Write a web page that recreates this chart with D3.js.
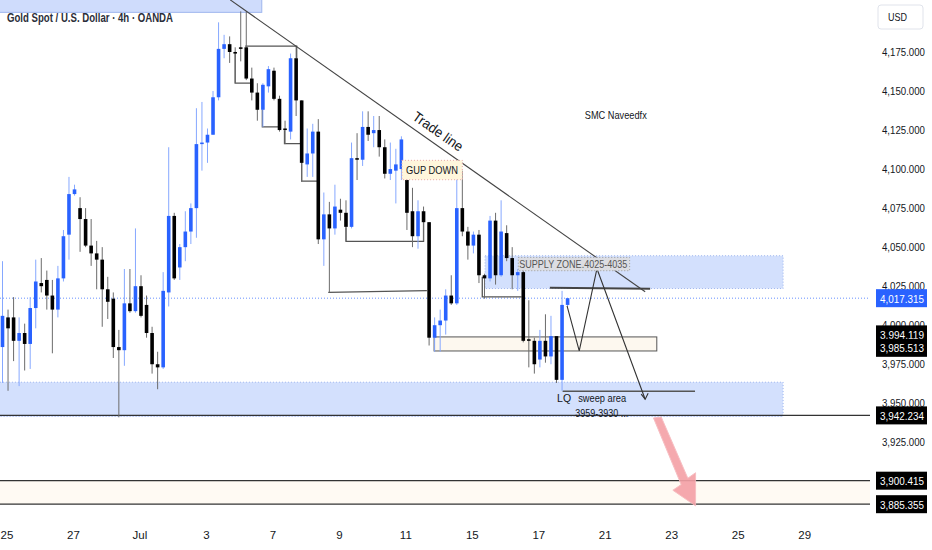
<!DOCTYPE html>
<html>
<head>
<meta charset="utf-8">
<title>Gold Spot 4h</title>
<script src="https://d3js.org/d3.v7.min.js"></script>
<style>
  body { margin: 0; background: #fff; }
  text { font-family: "Liberation Sans", Arial, sans-serif; fill: #131722; }
</style>
</head>
<body>
<script>
// ---- data (4h bars, oldest first) ----
var open  = [3986,4005,4005,3990,3995,3988,4011,4027,4029,4019,4010,4030,4058,4084,4075,4068,4051,4046,4042,4023,
             4017,3986,3984,4014,4009,4025,4013,3995,3975,3973,4021,4070,4037,4050,4060,4075,4116,4117,4122,4146,
             4177,4180,4175,4178,4178,4158,4149,4138,4153,4163,4145,4126,4124,4171,4144,4103,4110,4124,4055,4071,
             4062,4074,4072,4063,4107,4106,4127,4123,4125,4114,4097,4099,4100,4093,4073,4057,4073,4066,3992,4000,
             4003,4019,4014,4075,4060,4051,4058,4032,4030,4067,4032,4059,4043,4032,4034,3991,3990,3978,3990,3980,
             3993,3965,4013]
var high  = [4041,4010,4018,4005,4001,4018,4042,4043,4035,4029,4038,4061,4095,4090,4082,4075,4068,4054,4050,4031,
             4021,3997,4036,4036,4062,4032,4019,3999,3983,4034,4114,4072,4052,4073,4078,4139,4143,4126,4150,4194,
             4186,4185,4178,4201,4201,4165,4155,4155,4166,4165,4147,4131,4174,4179,4144,4126,4129,4132,4085,4079,
             4090,4081,4080,4117,4123,4137,4137,4134,4134,4119,4117,4113,4121,4095,4088,4080,4076,4066,4005,4010,
             4023,4032,4100,4099,4063,4060,4061,4033,4070,4072,4080,4064,4050,4036,4036,4016,3992,3997,4007,4006,
             3993,4022,4017.315]
var low   = [3963,3958,3977,3961,3971,3972,3998,4021,4010,3982,4005,4028,4042,4083,4047,4050,4038,4023,3999,4004,
             3979,3941,3974,4008,4008,4005,3992,3969,3959,3972,4012,4029,4029,4041,4052,4056,4099,4104,4122,4144,
             4171,4168,4155,4169,4157,4144,4131,4127,4149,4144,4124,4116,4119,4134,4092,4095,4095,4052,4038,4021,
             4058,4067,4054,4062,4093,4102,4118,4114,4108,4094,4093,4078,4093,4061,4050,4049,4054,3987,3983,3983,
             3994,4013,4013,4057,4042,4046,4027,4017,4028,4026,4031,4041,4023,4022,3989,3973,3969,3973,3976,3975,
             3963,3958,4012]
var close = [4006,3998,3990,3995,3988,4011,4028,4025,4019,4010,4030,4057,4084,4087,4068,4051,4046,4042,4023,4015,
             3986,3984,4014,4009,4025,4006,3995,3975,3973,4022,4070,4030,4050,4060,4075,4116,4117,4122,4146,4177,
             4180,4175,4174,4177,4158,4149,4138,4154,4164,4145,4125,4125,4171,4144,4104,4110,4124,4055,4071,4062,
             4076,4072,4063,4107,4106,4127,4122,4125,4114,4097,4100,4103,4119,4072,4057,4073,4066,3992,4000,4003,
             4019,4014,4075,4060,4051,4058,4032,4030,4067,4032,4060,4043,4032,4034,3990,3990,3975,3990,3980,3993,
             3965,4013,4017.315]

var priceTicks = [3925,3950,3975,4000,4025,4050,4075,4100,4125,4150,4175]
var dateLabels = ["25","27","Jul","3","7","9","11","15","17","21","23","25","29"]
var dateBars   = [0.8,12.8,24.8,36.8,48.8,60.8,72.8,84.8,96.8,108.8,120.8,132.8,144.8]

// marked levels on the price scale
var lastPrice = 4017.315
var levelLabels = [3994.119, 3985.513]
var levelLines = [3942.234, 3900.415, 3885.355]

// drawn zones: [fromBar, toBar, lowPrice, highPrice]
var zoneTop    = [-1, 46.8, 4200.4, 4215]
var zoneSupply = [87.1, 140.9, 4023.5, 4044.5]
var zoneLQ     = [-1, 140.9, 3941.5, 3963.5]
var zoneBox    = [77.9, 118.1, 3983.5, 3992.5]
var gapBox     = [72.1, 83, 4093.2, 4105.6]
var supplyTag  = [93.1, 113.2, 4034.9, 4043.4]

// liquidity steps: [bar, price] points
var steps = [
  [[42,4175.2],[42,4155],[44.7,4155]],
  [[43.8,4178.8],[53.1,4178.8],[53.1,4171.1]],
  [[46.9,4138],[46.9,4127],[49.8,4127]],
  [[50.9,4124.9],[50.9,4116.3],[54,4116.3]],
  [[54,4104.5],[54,4092.3],[56.8,4092.3]],
  [[62,4062.7],[62,4053.7],[76,4053.7],[76,4066.6]],
  [[58.8,4021],[76.6,4022.2]],
  [[86.6,4031],[86.6,4018.2],[93.7,4018.2]],
  [[101.1,3957.7],[125,3957.7]]
]
var targetLine = [[98.8,4024],[116.9,4023.3]]
var trendLine  = [[41.1,4208.4],[116,4021.4]]
var pathLine   = [[101.9,4012.4],[104.1,3983.5],[107.3,4036.2],[116,3952.6]]
var redArrow   = [[117.5,3940.6],[118.9,3941.2],[123.7,3902],[125.1,3905.5],[125.1,3884.3],[121,3894.3],[122.5,3897.9]]

var w = 932, h = 550
var svg = d3.select("body").append("svg").attr("width", w).attr("height", h)
svg.append("rect").attr("width", w).attr("height", h).attr("fill", "#fff")

var x = d3.scaleLinear().domain([0, 102]).range([2.5, 567.6])
var y = d3.scaleLinear().domain([3925, 4175]).range([442.3, 52])
var paneW = 870

svg.append("clipPath").attr("id", "pane").append("rect").attr("width", paneW).attr("height", 520)
var g = svg.append("g").attr("clip-path", "url(#pane)")

function zone(z, fill, stroke, dash) {
  g.append("rect")
    .attr("x", x(z[0])).attr("y", y(z[3]))
    .attr("width", x(z[1]) - x(z[0])).attr("height", y(z[2]) - y(z[3]))
    .attr("fill", fill).attr("stroke", stroke).attr("stroke-dasharray", dash)
}
function label(px, py, str, size, len, color) {
  return g.append("text").attr("x", px).attr("y", py)
    .attr("textLength", len).attr("lengthAdjust", "spacingAndGlyphs")
    .style("font-size", size + "px").style("fill", color || "#131722").text(str)
}
var line = d3.line().x(function(d){ return x(d[0]) }).y(function(d){ return y(d[1]) })

// cream band between the two lower levels
g.append("rect").attr("x", 0).attr("width", paneW)
  .attr("y", y(levelLines[1])).attr("height", y(levelLines[2]) - y(levelLines[1]))
  .attr("fill", "#fffaf3")

zone(zoneTop, "#cfdcfc", "#9fb6ee", null)
zone(zoneSupply, "#d3e0fd", "#9fb6ee", "1,2")
zone(zoneLQ, "#d3e0fd", "#9fb6ee", "1,2")
zone(zoneBox, "#fdf8ef", "#555", null)

// last price dotted line
g.append("line").attr("x1", 0).attr("x2", paneW).attr("y1", y(lastPrice)).attr("y2", y(lastPrice))
  .attr("stroke", "#2962ff").attr("stroke-dasharray", "1,2").attr("opacity", 0.7)

levelLines.forEach(function(p){
  g.append("line").attr("x1", 0).attr("x2", paneW).attr("y1", y(p)).attr("y2", y(p))
    .attr("stroke", "#333").attr("stroke-width", 1.3)
})

steps.forEach(function(s){
  g.append("path").attr("d", line(s)).attr("fill", "none").attr("stroke", "#555").attr("stroke-width", 1.3)
})
g.append("path").attr("d", line(targetLine)).attr("fill", "none").attr("stroke", "#444").attr("stroke-width", 2)

// candles
var bars = d3.range(open.length)
var cg = g.append("g")
cg.selectAll(".wick").data(bars).enter().append("line")
  .attr("x1", function(i){ return x(i) }).attr("x2", function(i){ return x(i) })
  .attr("y1", function(i){ return y(high[i]) }).attr("y2", function(i){ return y(low[i]) })
  .attr("stroke", function(i){ return close[i] >= open[i] ? "#86a8ff" : "#6b6b6b" })
  .attr("stroke-width", 1)
cg.selectAll(".body").data(bars).enter().append("rect")
  .attr("x", function(i){ return x(i) - 1.8 })
  .attr("width", 3.6)
  .attr("y", function(i){ return y(Math.max(open[i], close[i])) })
  .attr("height", function(i){ return Math.max(1.5, Math.abs(y(open[i]) - y(close[i]))) })
  .attr("fill", function(i){ return close[i] >= open[i] ? "#2962ff" : "#000" })

// trend line
g.append("path").attr("d", line(trendLine)).attr("fill", "none").attr("stroke", "#444").attr("stroke-width", 1.1)
g.append("text").attr("transform", "translate(" + x(78.6) + "," + y(4124.2) + ") rotate(35)")
  .attr("text-anchor", "middle").attr("dy", "0.35em")
  .attr("textLength", 58).attr("lengthAdjust", "spacingAndGlyphs")
  .style("font-size", "14px").text("Trade line")

// projection path
g.append("path").attr("d", line(pathLine)).attr("fill", "none").attr("stroke", "#333").attr("stroke-width", 1.1)
var tip = pathLine[pathLine.length - 1]
g.append("path").attr("d", "M" + (x(tip[0]) - 4) + "," + (y(tip[1]) - 5) + "L" + x(tip[0]) + "," + y(tip[1]) + "L" + (x(tip[0]) + 3) + "," + (y(tip[1]) - 6))
  .attr("fill", "none").attr("stroke", "#333").attr("stroke-width", 1.1)

// labels in boxes
zone(gapBox, "#fff6dc", "#e7a6a6", "1,2")
label(x(gapBox[0]) + 4, y((gapBox[2] + gapBox[3]) / 2) + 4, "GUP DOWN", 11, 52)
zone(supplyTag, "#dcdde2", "#9a9a9a", "1,2")
label(x(supplyTag[0]) + 1, y((supplyTag[2] + supplyTag[3]) / 2) + 4, "SUPPLY ZONE.4025-4035", 11, 108, "#555")

label(x(105.1), y(4134.5) + 4, "SMC Naveedfx", 11, 62)
label(x(100.1), y(3953.3) + 4, "LQ", 11.5, 14)
label(x(103.9), y(3953.3) + 4, "sweep area", 11.5, 48)
label(x(103.4), y(3943.5) + 4, "3959-3930 ...", 10.5, 53)

g.append("path").attr("d", line(redArrow) + "Z").attr("fill", "#f4a0a6").attr("stroke", "#f7b8bc").attr("opacity", 0.9)

// title
svg.append("text").attr("x", 7).attr("y", 22)
  .attr("textLength", 166).attr("lengthAdjust", "spacingAndGlyphs")
  .style("font-size", "13px").style("font-weight", "bold")
  .style("fill", "#2a2e39").text("Gold Spot / U.S. Dollar · 4h · OANDA")

// price axis
var ax = svg.append("g")
ax.selectAll(".tick").data(priceTicks).enter().append("text")
  .attr("x", 882).attr("y", function(d){ return y(d) + 4 })
  .attr("textLength", 43).attr("lengthAdjust", "spacingAndGlyphs")
  .style("font-size", "11.5px")
  .text(function(d){ return d3.format(",.3f")(d) })

ax.append("rect").attr("x", 878).attr("y", 5).attr("width", 45).attr("height", 24).attr("rx", 3)
  .attr("fill", "#fff").attr("stroke", "#e0e3eb")
ax.append("text").attr("x", 888).attr("y", 21).attr("textLength", 19).attr("lengthAdjust", "spacingAndGlyphs")
  .style("font-size", "11.5px").text("USD")

function tag(p, fill) {
  ax.append("rect").attr("x", 876).attr("y", y(p) - 9).attr("width", 51).attr("height", 18).attr("fill", fill)
  ax.append("text").attr("x", 880).attr("y", y(p) + 4.5)
    .attr("textLength", 44).attr("lengthAdjust", "spacingAndGlyphs")
    .style("font-size", "11.5px").style("fill", "#fff")
    .text(d3.format(",.3f")(p))
}
tag(lastPrice, "#2962ff")
levelLabels.forEach(function(p){ tag(p, "#000") })
levelLines.forEach(function(p){ tag(p, "#000") })

// date axis
svg.selectAll(".date").data(dateLabels).enter().append("text")
  .attr("x", function(d, i){ return x(dateBars[i]) }).attr("y", 539)
  .attr("text-anchor", "middle").style("font-size", "11.5px")
  .text(function(d){ return d })
</script>
</body>
</html>
